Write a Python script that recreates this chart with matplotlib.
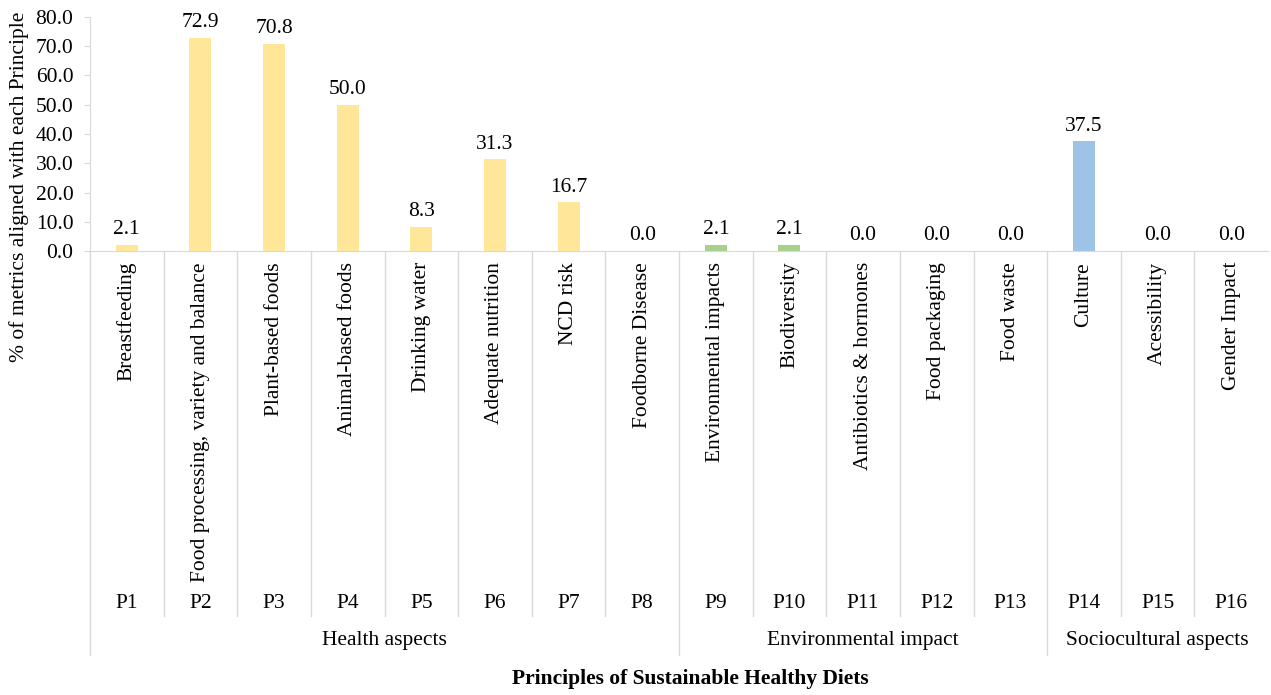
import numpy as np
import matplotlib.pyplot as plt
import matplotlib.transforms as mtransforms

plt.rcParams['font.family'] = ['Liberation Serif', 'DejaVu Serif']

codes = ["P%d" % i for i in range(1, 17)]
names = ["Breastfeeding", "Food processing, variety and balance", "Plant-based foods",
         "Animal-based foods", "Drinking water", "Adequate nutrition", "NCD risk",
         "Foodborne Disease", "Environmental impacts", "Biodiversity",
         "Antibiotics & hormones", "Food packaging", "Food waste", "Culture",
         "Acessibility", "Gender Impact"]
values = [2.1, 72.9, 70.8, 50.0, 8.3, 31.3, 16.7, 0.0, 2.1, 2.1, 0.0, 0.0, 0.0, 37.5, 0.0, 0.0]
groups = ["Health aspects", "Environmental impact", "Sociocultural aspects"]
group_sizes = [8, 5, 3]
group_colors = ["#FFE699", "#A9D18E", "#9DC3E6"]

colors = []
for c, n in zip(group_colors, group_sizes):
    colors += [c] * n

FS = 15.5
W, H = 1271, 695
fig = plt.figure(figsize=(W / 100, H / 100), dpi=100)
ax = fig.add_axes([90 / W, 1 - 251 / H, (1268 - 90) / W, (251 - 17) / H])

x = np.arange(len(values))
ax.bar(x, values, width=0.3, color=colors)
for xi, v in zip(x, values):
    ax.annotate("%.1f" % v, (xi, v), xytext=(0, 4), textcoords="offset points",
                ha="center", va="bottom", fontsize=FS)

ax.set_xlim(-0.5, len(values) - 0.5)
ax.set_ylim(0, 80)
ax.set_yticks(np.arange(0, 81, 10))
ax.set_yticklabels(["%.1f" % t for t in np.arange(0, 81, 10)], fontsize=FS)
ax.set_xticks([])
for s in ["top", "right"]:
    ax.spines[s].set_visible(False)
ax.spines["left"].set_color("#D9D9D9")
ax.spines["bottom"].set_color("#D9D9D9")
ax.tick_params(axis="y", color="#D9D9D9", length=4, pad=8)
ax.set_ylabel("% of metrics aligned with each Principle", fontsize=FS)
ax.yaxis.set_label_coords((29 - 90) / 1178, (251 - 187) / 234)

# category area below the axis (in pixel offsets from the axis bottom)
tr = mtransforms.blended_transform_factory(ax.transData, ax.transAxes)
ph = (251 - 17)  # axes height in px


def ay(py):
    return 1 - (py - 17) / ph


line_kw = dict(color="#D9D9D9", lw=1, transform=tr, clip_on=False)
for xi, name, code in zip(x, names, codes):
    ax.text(xi, ay(262), name, rotation=90, ha="center", va="top",
            fontsize=FS, transform=tr)
    ax.text(xi, ay(603), code, ha="center", va="center", fontsize=FS, transform=tr)

bounds = np.cumsum([0] + group_sizes) - 0.5
for i in range(1, len(values)):
    b = i - 0.5
    if b in bounds:
        ax.plot([b, b], [ay(251), ay(655)], **line_kw)
    else:
        ax.plot([b, b], [ay(251), ay(616)], **line_kw)
ax.plot([-0.5, -0.5], [ay(251), ay(655)], **line_kw)

for g, lo, hi in zip(groups, bounds[:-1], bounds[1:]):
    ax.text((lo + hi) / 2, ay(641), g, ha="center", va="center", fontsize=FS, transform=tr)

fig.text(690 / W, 1 - 679 / H, "Principles of Sustainable Healthy Diets",
         ha="center", va="center", fontsize=FS, fontweight="bold")

fig.savefig("out.png", dpi=100, facecolor="white")
